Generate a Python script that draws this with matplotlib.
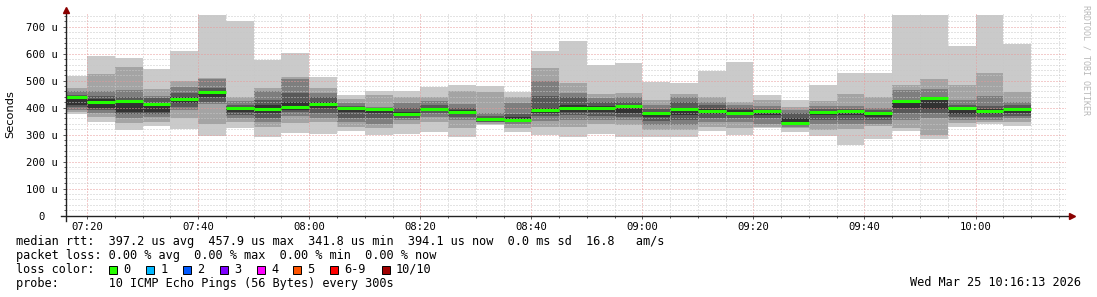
import matplotlib
matplotlib.use('Agg')
import matplotlib.pyplot as plt
from matplotlib.patches import Rectangle

W, H = 1097, 297
MONO = 'DejaVu Sans Mono'

# 5 minute slots (start time of each slot)
slot_start = ['07:15', '07:20', '07:25', '07:30', '07:35', '07:40', '07:45',
              '07:50', '07:55', '08:00', '08:05', '08:10', '08:15', '08:20',
              '08:25', '08:30', '08:35', '08:40', '08:45', '08:50', '08:55',
              '09:00', '09:05', '09:10', '09:15', '09:20', '09:25', '09:30',
              '09:35', '09:40', '09:45', '09:50', '09:55', '10:00', '10:05']

# sorted ping rtts per slot in microseconds, p1 = fastest ... p10 = slowest
p10 = [518, 593, 586, 543, 611, 745, 720, 577, 602, 513, 446, 461, 461, 477, 483, 479, 458, 611,
       648, 560, 565, 496, 493, 536, 568, 447, 428, 484, 530, 530, 745, 745, 627, 745, 637]
p9 = [472, 524, 550, 468, 499, 511, 440, 472, 513, 474, 432, 446, 441, 440, 463, 458, 441, 548,
      492, 450, 453, 428, 450, 440, 422, 428, 404, 424, 450, 440, 484, 506, 484, 530, 459]
p8 = [460, 462, 466, 445, 476, 508, 425, 460, 505, 455, 416, 402, 416, 424, 415, 380, 416, 500,
      453, 436, 440, 410, 438, 422, 410, 405, 392, 406, 406, 400, 465, 468, 428, 443, 422]
p7 = [447, 444, 441, 437, 454, 472, 410, 428, 453, 440, 405, 395, 400, 410, 400, 368, 378, 442,
      440, 420, 420, 395, 420, 410, 400, 395, 380, 395, 395, 390, 430, 440, 410, 406, 410]
p6 = [435, 432, 420, 419, 441, 459, 403, 410, 420, 420, 400, 390, 385, 400, 390, 362, 365, 400,
      410, 405, 408, 385, 400, 395, 390, 390, 360, 386, 390, 385, 418, 430, 400, 395, 400]
p5 = [410, 400, 383, 385, 416, 440, 385, 380, 392, 400, 385, 379, 370, 388, 375, 352, 350, 380,
      383, 385, 380, 365, 372, 378, 372, 372, 340, 372, 372, 365, 399, 395, 375, 375, 380]
p4 = [404, 391, 375, 375, 404, 422, 372, 360, 385, 380, 360, 360, 362, 379, 365, 348, 347, 370,
      372, 369, 366, 350, 356, 360, 360, 362, 335, 355, 354, 355, 380, 380, 365, 365, 370]
p3 = [391, 379, 360, 367, 391, 413, 360, 345, 369, 360, 345, 341, 354, 365, 355, 345, 340, 350,
      355, 355, 354, 335, 335, 345, 347, 341, 330, 341, 340, 341, 354, 360, 355, 354, 360]
p2 = [385, 364, 342, 348, 360, 339, 345, 330, 344, 345, 330, 323, 341, 347, 323, 340, 323, 329,
      330, 339, 335, 316, 316, 330, 326, 328, 323, 316, 320, 331, 323, 300, 344, 345, 345]
p1 = [378, 346, 317, 332, 321, 295, 325, 291, 306, 302, 313, 300, 304, 310, 292, 335, 310, 297,
      292, 303, 292, 290, 292, 314, 300, 323, 310, 295, 261, 283, 313, 283, 329, 338, 331]
median = [440, 422, 424, 415, 432, 458, 400, 395, 402, 412, 397, 395, 375, 395, 383, 358, 355, 391,
          398, 397, 405, 381, 395, 388, 382, 388, 342, 385, 387, 379, 424, 436, 397, 387, 394]

smoke_colors = ['#cacaca', '#a4a4a4', '#7e7e7e', '#585858', '#323232']

y_ticks = [0, 100, 200, 300, 400, 500, 600, 700]
y_tick_labels = ['0  ', '100 u', '200 u', '300 u', '400 u', '500 u', '600 u', '700 u']
x_tick_labels = ['07:20', '07:40', '08:00', '08:20', '08:40', '09:00', '09:20', '09:40', '10:00']

loss_names = ['0', '1', '2', '3', '4', '5', '6-9', '10/10']
loss_colors = ['#26ff00', '#00b8ff', '#0059ff', '#7e00ff', '#ff00ff', '#ff5500', '#ff0000', '#a00000']


def minutes(t):
    h, m = t.split(':')
    return int(h) * 60 + int(m)


x = [minutes(t) for t in slot_start]
t_start = minutes('07:16') + 13 / 60
t_end = minutes('10:16') + 13 / 60

fig = plt.figure(figsize=(W / 100, H / 100), dpi=100)
ax = fig.add_axes([66.1 / W, 1 - 215.5 / H, 999.5 / W, (215.5 - 13.3) / H])

lows = [p1, p2, p3, p4, p5]
highs = [p10, p9, p8, p7, p6]
for lo, hi, col in zip(lows, highs, smoke_colors):
    ax.bar(x, [b - a for a, b in zip(lo, hi)], bottom=lo, width=5, align='edge',
           color=col, linewidth=0, zorder=1)
ax.hlines(median, x, [v + 5 for v in x], colors='#22ff00', linewidth=2.2, zorder=3)

ax.set_xlim(t_start, t_end)
ax.set_ylim(0, 750)

ax.set_xticks([minutes(t) for t in x_tick_labels])
ax.set_xticklabels(x_tick_labels)
ax.set_xticks(range(minutes('07:20'), minutes('10:16'), 5), minor=True)
ax.set_yticks(y_ticks)
ax.set_yticklabels(y_tick_labels)
ax.set_yticks(range(0, 750, 20), minor=True)

ax.set_axisbelow(False)
ax.grid(which='minor', color='#c8c8c8', linestyle=(0, (1, 2)), linewidth=0.72, zorder=2)
ax.grid(which='major', color='#e89a9a', linestyle=(0, (1, 2)), linewidth=0.72, zorder=2)

for lab in ax.get_xticklabels() + ax.get_yticklabels():
    lab.set_family(MONO)
    lab.set_fontsize(7.6)
ax.tick_params(which='both', direction='out', color='#555555', width=0.7, length=2, pad=2.5)
ax.tick_params(which='minor', length=1.5)
ax.tick_params(axis='y', pad=4)

for s in ax.spines.values():
    s.set_visible(False)
# axis lines with small red arrows, as rrdtool draws them
ax.plot([-0.005, 1.004], [0, 0], transform=ax.transAxes, color='#222222', lw=1.0, clip_on=False, zorder=4)
ax.plot([0, 0], [-0.025, 1.01], transform=ax.transAxes, color='#222222', lw=1.0, clip_on=False, zorder=4)
ax.plot([1.006], [0], transform=ax.transAxes, marker='>', ms=4, color='#8b0000', clip_on=False, zorder=5)
ax.plot([0], [1.014], transform=ax.transAxes, marker='^', ms=4, color='#8b0000', clip_on=False, zorder=5)

ax.set_ylabel('Seconds', fontsize=8.2)
ax.yaxis.set_label_coords(-51 / 999.5, 0.5)

fig.text(1086 / W, 1 - 5 / H, 'RRDTOOL / TOBI OETIKER', rotation=270, ha='center', va='top',
         family=MONO, fontsize=6, color='#b8b8b8')

legend_size = 8.6
fig.text(16 / W, 1 - 241 / H,
         'median rtt:  397.2 us avg  457.9 us max  341.8 us min  394.1 us now  0.0 ms sd  16.8   am/s',
         family=MONO, fontsize=legend_size, va='center')
fig.text(16 / W, 1 - 256 / H, 'packet loss: 0.00 % avg  0.00 % max  0.00 % min  0.00 % now',
         family=MONO, fontsize=legend_size, va='center')
fig.text(16 / W, 1 - 269.5 / H, 'loss color:', family=MONO, fontsize=legend_size, va='center')
box_x = [108.5, 146, 183, 220, 256.5, 293, 330, 381.5]
for bx, name, col in zip(box_x, loss_names, loss_colors):
    fig.add_artist(Rectangle((bx / W, 1 - 273.5 / H), 8 / W, 8 / H, transform=fig.transFigure,
                             facecolor=col, edgecolor='black', linewidth=0.7))
    fig.text((bx + 14.5) / W, 1 - 269.5 / H, name, family=MONO, fontsize=legend_size, va='center')
fig.text(16 / W, 1 - 283 / H, 'probe:       10 ICMP Echo Pings (56 Bytes) every 300s',
         family=MONO, fontsize=legend_size, va='center')
fig.text(1081 / W, 1 - 283 / H, 'Wed Mar 25 10:16:13 2026', family=MONO, fontsize=legend_size,
         va='center', ha='right')

fig.savefig('out.png', dpi=100, facecolor='white')
